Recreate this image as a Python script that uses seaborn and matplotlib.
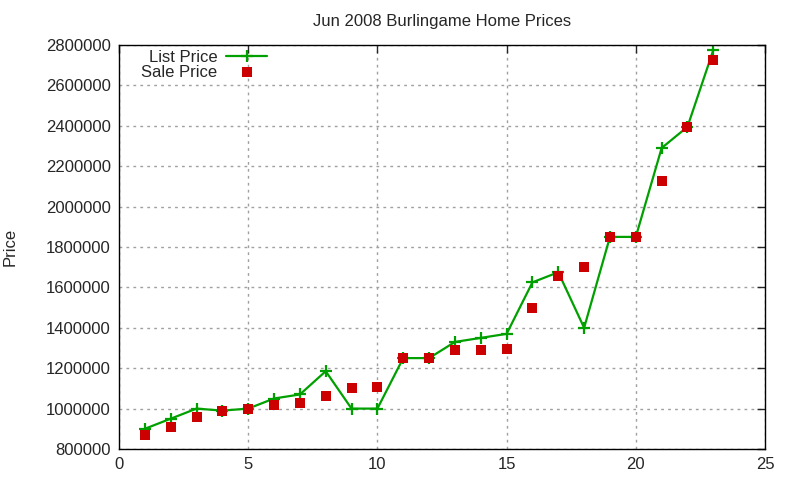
import pandas as pd
import matplotlib
matplotlib.use('Agg')
import matplotlib.pyplot as plt
import seaborn as sns

sns.set_style('white')
plt.rcParams['font.family'] = ['Liberation Sans', 'DejaVu Sans']

# house index (sorted by list price)
homes = list(range(1, 24))
list_price = [900000, 950000, 1000000, 990000, 1000000, 1050000, 1070000, 1185000,
              1000000, 1000000, 1250000, 1250000, 1330000, 1350000, 1370000, 1625000,
              1675000, 1400000, 1850000, 1850000, 2290000, 2395000, 2775000]
sale_price = [870000, 910000, 960000, 990000, 1000000, 1020000, 1030000, 1060000,
              1100000, 1105000, 1250000, 1250000, 1290000, 1290000, 1295000, 1500000,
              1655000, 1700000, 1850000, 1850000, 2125000, 2395000, 2725000]
x_ticks = [0, 5, 10, 15, 20, 25]
y_ticks = list(range(800000, 2800001, 200000))

df = pd.DataFrame({'home': homes, 'list': list_price, 'sale': sale_price})

fig = plt.figure(figsize=(8, 4.8), dpi=100)
ax = fig.add_axes([119 / 800, 1 - 449 / 480, (765 - 119) / 800, (449 - 45) / 480])

sns.lineplot(data=df, x='home', y='list', ax=ax, color='#00a000', linewidth=1.6,
             marker='+', markersize=9, markeredgewidth=1.6, markeredgecolor='#00a000',
             label='List Price')
sns.scatterplot(data=df, x='home', y='sale', ax=ax, color='#cc0000', marker='s',
                s=52, linewidth=0, label='Sale Price', zorder=3)

ax.set_xlim(0, 25)
ax.set_ylim(800000, 2800000)
ax.set_xticks(x_ticks)
ax.set_yticks(y_ticks)
ax.ticklabel_format(style='plain', axis='y')
ax.tick_params(direction='in', top=True, right=True, length=6, width=1,
               labelsize=12, pad=6)
ax.grid(True, color='#a0a0a0', linestyle=(0, (2, 3)), linewidth=1)
for s in ax.spines.values():
    s.set_linewidth(1)
    s.set_color('black')

ax.set_xlabel('')
ax.set_ylabel('Price', fontsize=12, labelpad=20)
ax.set_title('Jun 2008 Burlingame Home Prices', fontsize=12, pad=14)

leg = ax.legend(loc='upper left', bbox_to_anchor=(0.019, 1.013), frameon=False,
                markerfirst=False, fontsize=12, handlelength=2.5, handletextpad=0.5,
                labelspacing=0.0, borderaxespad=0.2)
for t in leg.get_texts():
    t.set_ha('right')

fig.savefig('out.png', dpi=100)
